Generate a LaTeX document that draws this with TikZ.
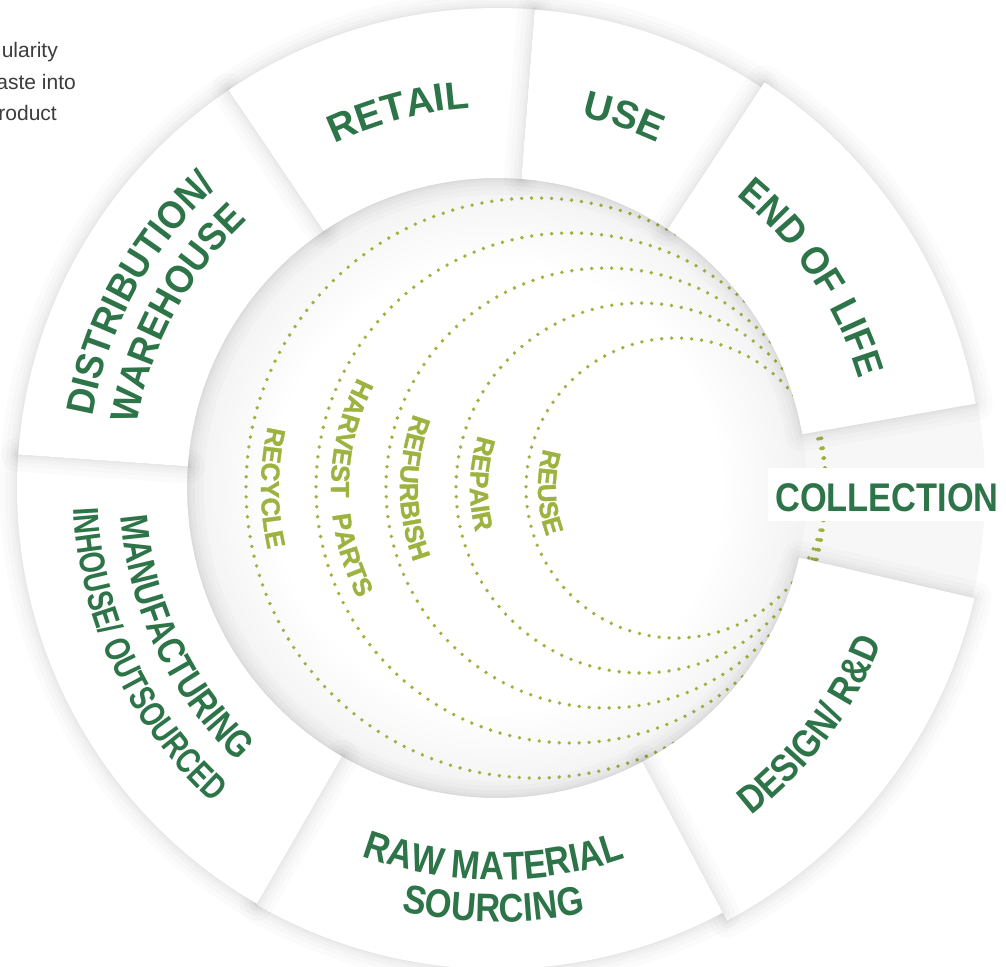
\documentclass[tikz,border=0pt]{standalone}
\usepackage{fontspec}
\setmainfont{Liberation Sans}
\newfontfamily\fA{Liberation Sans}
\newfontfamily\fB{Liberation Sans}[FakeStretch=0.92]
\newfontfamily\fC{Liberation Sans}[FakeStretch=0.86]
\newfontfamily\fD{Liberation Sans}[FakeStretch=0.80]
\newfontfamily\fE{Liberation Sans}[FakeStretch=0.76]
\newfontfamily\fI{Liberation Sans}[BoldFeatures={FakeBold=1.3}]
\usetikzlibrary{decorations.text}
\definecolor{dgreen}{HTML}{2D7548}
\definecolor{lgreen}{HTML}{9DB33F}
\definecolor{txtgrey}{HTML}{3C3C3C}
\colorlet{diskedge}{black!5}
\pgfdeclareradialshading{diskshade}{\pgfpoint{0bp}{0bp}}{color(0bp)=(white); color(18bp)=(white); color(25bp)=(diskedge); color(50bp)=(diskedge)}
\tikzset{
  card/.style={fill=white,
    preaction={draw=black, draw opacity=0.014, line width=34pt, line join=round},
    preaction={draw=black, draw opacity=0.016, line width=24pt, line join=round},
    preaction={draw=black, draw opacity=0.018, line width=15pt, line join=round},
    preaction={draw=black, draw opacity=0.02, line width=8pt, line join=round},
    preaction={draw=black, draw opacity=0.025, line width=3pt, line join=round}},
  lab/.style={decorate, decoration={text along path, text align=center, text color=dgreen}},
  inlab/.style={decorate, decoration={text along path, text align=center, text color=lgreen}},
  dotline/.style={draw=lgreen, line width=3.8pt, line cap=round, dash pattern=on 0pt off 10pt},
  sidetext/.style={anchor=base east, inner sep=0pt, text=txtgrey, font=\fontsize{21}{21}\selectfont},
}
\begin{document}
\begin{tikzpicture}[x=1pt,y=1pt]
\useasboundingbox (0,0) rectangle (1006,-966);
\fill[white] (0,0) rectangle (1006,-966);

\node[sidetext] (t1) at (58,-58) {ularity};
\node[sidetext] (t2) at (76,-89) {aste into};
\node[sidetext] (t3) at (57,-120) {roduct};

\begin{scope}[shift={(497,-488)}]
% gap behind COLLECTION
\fill[black!3] (-13:310pt) arc[start angle=-13,end angle=10,radius=310pt] -- (10:488pt) arc[start angle=10,end angle=-13,radius=488pt] -- cycle;
% inner disk
\shade[shading=diskshade] (0,0) circle[radius=310pt];
% dotted loops, all touching at the right
\draw[dotline] (39,0) circle[radius=290pt];
\draw[dotline] (74,0) circle[radius=255pt];
\draw[dotline] (109,0) circle[radius=220pt];
\draw[dotline] (144,0) circle[radius=185pt];
\draw[dotline] (179,0) circle[radius=150pt];

% cards, bottom of the stack first
\path[card] (298:310pt) arc[start angle=298,end angle=347,radius=310pt] -- (347:490pt) arc[start angle=347,end angle=298,radius=490pt] -- cycle;
\path[card] (240:310pt) arc[start angle=240,end angle=298,radius=310pt] -- (298:481pt) arc[start angle=298,end angle=240,radius=481pt] -- cycle;
\path[card] (176:310pt) arc[start angle=176,end angle=240,radius=310pt] -- (240:480pt) arc[start angle=240,end angle=176,radius=480pt] -- cycle;
\path[card] (124:310pt) arc[start angle=124,end angle=176,radius=310pt] -- (176:480pt) arc[start angle=176,end angle=124,radius=480pt] -- cycle;
\path[card] (85.5:310pt) arc[start angle=85.5,end angle=124,radius=310pt] -- (124:480pt) arc[start angle=124,end angle=85.5,radius=480pt] -- cycle;
\path[card] (56.6:310pt) arc[start angle=56.6,end angle=85.5,radius=310pt] -- (85.5:480pt) arc[start angle=85.5,end angle=56.6,radius=480pt] -- cycle;
\path[card] (10:310pt) arc[start angle=10,end angle=56.6,radius=310pt] -- (56.6:486pt) arc[start angle=56.6,end angle=10,radius=486pt] -- cycle;

% outer labels, top half (clockwise, letters upright outward)
\path[lab, decoration={text={|\fontsize{39}{39}\fA\bfseries|RETAIL}}] (144.6:381pt) arc[start angle=144.6,end angle=64.6,radius=381pt];
\path[lab, decoration={text={|\fontsize{39}{39}\fA\bfseries|USE}}] (111.1:381pt) arc[start angle=111.1,end angle=31.1,radius=381pt];
\path[lab, decoration={text={|\fontsize{39}{39}\fB\bfseries|END OF LIFE}}] (93.7:378pt) arc[start angle=93.7,end angle=-26.3,radius=378pt];
\path[lab, decoration={text={|\fontsize{39}{39}\fB\bfseries|DISTRIBUTION/}}] (211.5:411pt) arc[start angle=211.5,end angle=91.5,radius=411pt];
\path[lab, decoration={text={|\fontsize{39}{39}\fB\bfseries|WAREHOUSE}}] (211.5:366pt) arc[start angle=211.5,end angle=91.5,radius=366pt];
% outer labels, bottom half (counter-clockwise, letters pointing inward)
\path[lab, decoration={text={|\fontsize{39}{39}\fD\bfseries|MANUFACTURING}}] (145.4:377pt) arc[start angle=145.4,end angle=265.4,radius=377pt];
\path[lab, decoration={text={|\fontsize{36}{36}\fE\bfseries|INHOUSE/ OUTSOURCED}}] (145.3:424pt) arc[start angle=145.3,end angle=265.3,radius=424pt];
\path[lab, decoration={text={|\fontsize{40}{40}\fC\bfseries|RAW MATERIAL}}] (209.5:392pt) arc[start angle=209.5,end angle=329.5,radius=392pt];
\path[lab, decoration={text={|\fontsize{40}{40}\fC\bfseries|SOURCING}}] (209.5:434pt) arc[start angle=209.5,end angle=329.5,radius=434pt];
\path[lab, decoration={text={|\fontsize{39}{39}\fC\bfseries|DESIGN/ R{\&}D}}] (263:415pt) arc[start angle=263,end angle=383,radius=415pt];

% inner labels
\begin{scope}[shift={(39,0)}]
\path[inlab, decoration={text={|\fontsize{26}{26}\fI\bfseries|RECYCLE}}] (120:275pt) arc[start angle=120,end angle=240,radius=275pt];
\end{scope}
\begin{scope}[shift={(74,0)}]
\path[inlab, decoration={text={|\fontsize{26}{26}\fI\bfseries|HARVEST {\kern10pt}PARTS}}] (120:240pt) arc[start angle=120,end angle=240,radius=240pt];
\end{scope}
\begin{scope}[shift={(109,0)}]
\path[inlab, decoration={text={|\fontsize{26}{26}\fI\bfseries|REFURBISH}}] (120:206pt) arc[start angle=120,end angle=240,radius=206pt];
\end{scope}
\begin{scope}[shift={(144,0)}]
\path[inlab, decoration={text={|\fontsize{26}{26}\fI\bfseries|REPAIR}}] (118.5:171pt) arc[start angle=118.5,end angle=238.5,radius=171pt];
\end{scope}
\begin{scope}[shift={(179,0)}]
\path[inlab, decoration={text={|\fontsize{26}{26}\fI\bfseries|REUSE}}] (122:138pt) arc[start angle=122,end angle=242,radius=138pt];
\end{scope}
\end{scope}

% COLLECTION band
\fill[white] (768,-468) rectangle (1006,-521);
\node[anchor=base, inner sep=0pt, text=dgreen, font=\fontsize{40}{40}\fC\bfseries] (coll) at (887,-511) {COLLECTION};
\end{tikzpicture}
\end{document}
